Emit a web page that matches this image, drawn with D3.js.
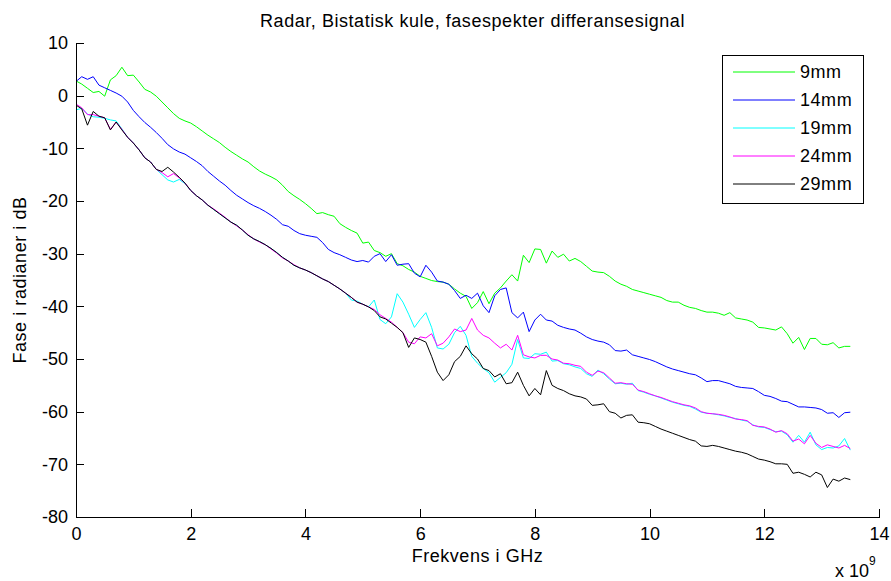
<!DOCTYPE html>
<html>
<head>
<meta charset="utf-8">
<script src="https://cdn.jsdelivr.net/npm/d3@7"></script>
<style>
  html, body { margin: 0; padding: 0; background: #fff; }
  svg { display: block; }
  text { font-family: "Liberation Sans", Arial, Helvetica, sans-serif; fill: #000; }
</style>
</head>
<body>
<svg id="chart" width="891" height="581"></svg>
<script>
// Frequency grid in GHz (plotted on an axis scaled by 1e9): 0.0 .. 13.5 in 0.1 steps
const freqStart = 0, freqStep = 0.1, freqCount = 136;
const freq = d3.range(freqCount).map(i => +(freqStart + i * freqStep).toFixed(1));

const seriesNames = ["9mm", "14mm", "19mm", "24mm", "29mm"];
const seriesColors = ["#00ff00", "#0000ff", "#00ffff", "#ff00ff", "#000000"];

const phase9 = [
  2.8, 2.2, 1.4, 0.6, 0.8, -0.1, 3.0, 3.8, 5.4, 3.8,
  3.9, 2.6, 1.2, 0.7, -0.1, -1.2, -2.3, -3.4, -4.3, -4.8,
  -5.2, -5.9, -6.7, -7.5, -8.2, -8.9, -9.8, -10.6, -11.3, -12.0,
  -12.6, -13.5, -14.3, -14.9, -15.4, -16.0, -17.0, -18.2, -19.0, -19.7,
  -20.5, -21.4, -22.4, -22.2, -22.6, -22.9, -24.3, -25.0, -25.6, -26.1,
  -28.0, -27.8, -29.4, -29.8, -30.5, -30.0, -31.9, -32.3, -33.0, -33.5,
  -34.3, -34.7, -35.1, -35.3, -35.4, -35.8, -36.7, -37.5, -38.1, -40.4,
  -39.3, -37.2, -39.5, -37.5, -36.5, -35.2, -34.0, -35.2, -30.3, -31.7,
  -29.1, -29.2, -31.8, -29.5, -30.7, -30.1, -31.4, -30.9, -31.5, -32.4,
  -33.3, -33.5, -33.6, -34.3, -35.2, -35.8, -36.2, -36.8, -37.1, -37.4,
  -37.7, -38.0, -38.3, -38.9, -39.2, -39.2, -39.8, -40.2, -40.4, -40.8,
  -41.1, -41.1, -41.3, -41.7, -41.2, -42.2, -42.4, -42.6, -43.0, -44.0,
  -44.1, -44.3, -44.5, -43.9, -45.2, -47.0, -45.9, -48.2, -46.1, -46.1,
  -47.2, -47.3, -46.9, -47.9, -47.6, -47.6
];

const phase14 = [
  2.7, 3.6, 3.1, 3.6, 2.0, 1.5, 1.0, 0.5, -0.1, -1.2,
  -2.8, -4.0, -5.1, -6.0, -7.0, -8.1, -9.3, -10.1, -10.7, -11.1,
  -11.8, -12.5, -13.3, -14.4, -15.3, -16.2, -17.0, -18.0, -18.9, -19.6,
  -20.3, -20.9, -21.4, -22.0, -22.7, -23.5, -24.5, -24.8, -25.6, -26.2,
  -26.5, -26.7, -26.9, -27.9, -29.2, -29.8, -30.2, -30.7, -31.2, -31.5,
  -31.3, -31.6, -30.5, -30.0, -31.5, -30.2, -32.2, -32.0, -31.9, -33.7,
  -34.4, -32.2, -33.5, -35.2, -35.4, -35.8, -37.0, -38.5, -37.9, -38.5,
  -37.5, -39.9, -41.2, -38.0, -36.8, -36.5, -41.2, -42.2, -41.1, -44.8,
  -42.6, -41.5, -42.6, -42.8, -43.6, -44.0, -44.3, -44.5, -45.1, -45.8,
  -46.3, -46.6, -46.8, -47.3, -48.4, -48.5, -48.3, -49.2, -49.5, -49.8,
  -50.1, -50.5, -51.0, -51.5, -51.9, -52.2, -52.5, -52.8, -53.0, -53.6,
  -54.3, -54.1, -54.1, -54.4, -54.7, -55.2, -55.4, -55.5, -55.6, -56.2,
  -56.9, -57.1, -57.5, -58.0, -58.1, -58.6, -59.1, -59.1, -59.2, -59.3,
  -59.6, -60.3, -60.2, -61.1, -60.2, -60.1
];

const phase19 = [
  -2.7, -2.4, -3.5, -4.0, -4.1, -4.3, -4.6, -4.8, -6.3, -7.9,
  -9.0, -10.3, -11.8, -12.6, -14.0, -15.0, -16.0, -16.4, -15.9, -16.7,
  -18.0, -19.0, -19.8, -20.8, -21.6, -22.4, -23.2, -24.0, -24.6, -25.5,
  -26.5, -27.2, -27.7, -28.3, -29.0, -29.8, -30.7, -31.4, -32.2, -32.7,
  -33.1, -33.6, -34.2, -34.8, -35.3, -36.0, -36.7, -37.5, -38.8, -39.0,
  -39.6, -40.1, -38.8, -42.5, -43.3, -42.0, -37.6, -39.2, -41.5, -44.0,
  -42.5, -41.2, -44.0, -47.9, -48.1, -47.2, -45.0, -43.8, -45.5, -49.5,
  -50.8, -51.8, -52.6, -54.4, -53.5, -52.6, -51.0, -46.3, -49.8, -49.9,
  -49.0, -49.1, -48.7, -50.4, -50.3, -50.9, -51.1, -51.5, -51.8, -52.8,
  -53.3, -52.1, -52.8, -53.8, -54.7, -54.6, -54.8, -54.6, -56.0, -56.3,
  -56.7, -57.0, -57.4, -57.8, -58.2, -58.5, -58.8, -59.0, -59.5, -60.1,
  -60.3, -60.4, -60.6, -60.8, -61.1, -61.3, -61.6, -61.8, -62.5, -62.9,
  -63.0, -63.4, -63.8, -63.7, -64.4, -65.8, -64.5, -65.8, -63.9, -66.3,
  -67.2, -66.8, -66.9, -66.5, -65.1, -67.3
];

const phase24 = [
  -1.6, -2.3, -3.6, -3.6, -3.9, -4.2, -6.4, -5.0, -6.4, -7.9,
  -9.0, -10.3, -11.8, -12.6, -14.0, -14.6, -15.4, -14.8, -15.6, -16.6,
  -18.0, -19.0, -19.8, -20.8, -21.5, -22.3, -23.1, -24.0, -24.7, -25.5,
  -26.4, -27.2, -27.8, -28.3, -29.1, -29.9, -30.8, -31.4, -32.1, -32.7,
  -33.1, -33.6, -34.2, -34.8, -35.3, -36.0, -36.7, -37.5, -38.3, -39.2,
  -39.6, -40.1, -40.6, -41.6, -42.3, -43.0, -44.0, -45.0, -46.8, -47.1,
  -45.8, -46.0, -45.2, -47.5, -47.0, -45.8, -44.3, -44.8, -44.5, -42.3,
  -44.5, -45.5, -46.0, -47.0, -47.9, -47.2, -48.3, -45.5, -49.2, -49.6,
  -49.8, -49.3, -49.3, -50.0, -50.2, -50.8, -50.9, -51.2, -51.4, -52.5,
  -53.1, -52.3, -52.6, -53.6, -54.6, -54.5, -54.7, -54.8, -55.9, -56.2,
  -56.6, -57.0, -57.3, -57.7, -58.1, -58.4, -58.7, -58.9, -59.3, -60.0,
  -60.3, -60.4, -60.5, -60.7, -61.0, -61.4, -61.5, -61.7, -62.6, -62.8,
  -62.9, -63.3, -63.9, -63.6, -64.2, -65.6, -65.2, -66.1, -64.5, -66.0,
  -66.8, -66.3, -66.6, -66.9, -66.4, -67.0
];

const phase29 = [
  -1.8, -2.5, -5.6, -3.0, -3.9, -4.2, -6.5, -5.0, -6.5, -7.9,
  -9.0, -10.3, -11.8, -12.6, -14.0, -14.4, -13.6, -14.5, -15.5, -16.6,
  -18.0, -19.0, -19.8, -20.8, -21.6, -22.4, -23.2, -24.0, -24.6, -25.5,
  -26.5, -27.2, -27.7, -28.3, -29.0, -29.8, -30.7, -31.4, -32.2, -32.7,
  -33.1, -33.6, -34.2, -34.8, -35.3, -36.0, -36.7, -37.5, -38.3, -39.2,
  -39.6, -40.1, -40.8, -42.0, -42.4, -43.2, -44.0, -45.0, -47.8, -46.0,
  -46.3, -46.8, -49.5, -52.5, -54.1, -53.0, -50.5, -49.5, -47.5, -49.0,
  -50.0, -51.8, -52.2, -53.4, -52.8, -54.7, -54.5, -52.5, -55.0, -57.0,
  -55.6, -56.8, -52.2, -55.0, -55.6, -56.0, -56.6, -57.0, -57.2, -57.6,
  -58.8, -58.7, -58.5, -60.0, -60.3, -61.2, -60.7, -60.6, -62.0, -62.1,
  -62.3, -62.8, -63.3, -63.7, -64.1, -64.5, -64.9, -65.3, -65.6, -66.5,
  -66.6, -66.4, -66.6, -66.9, -67.2, -67.5, -67.7, -68.0, -68.5, -69.0,
  -69.2, -69.5, -69.9, -69.9, -70.0, -71.7, -71.5, -71.9, -72.4, -71.5,
  -72.0, -74.4, -72.8, -73.2, -72.6, -72.9
];

const seriesValues = [phase9, phase14, phase19, phase24, phase29];

const xTicks = [0, 2, 4, 6, 8, 10, 12, 14];
const yTicks = [-80, -70, -60, -50, -40, -30, -20, -10, 0, 10];

const titleText = "Radar, Bistatisk kule, fasespekter differansesignal";
const xLabelText = "Frekvens i GHz";
const yLabelText = "Fase i radianer i dB";

// ---- layout ----
const svg = d3.select("#chart");
const plotLeft = 76, plotRight = 879, plotTop = 43, plotBottom = 517;
const fontSize = 18;
const letterGap = 0.55;

const x = d3.scaleLinear().domain([0, 14]).range([plotLeft, plotRight]);
const y = d3.scaleLinear().domain([-80, 10]).range([plotBottom, plotTop]);

// plain ASCII hyphen for negative tick labels
const tickFmt = d => String(d);

// data lines (drawn first so the legend sits on top)
const line = d3.line()
  .x((d, i) => x(freq[i]))
  .y(d => y(d));

const linesG = svg.append("g").attr("class", "lines");
seriesValues.forEach((vals, k) => {
  linesG.append("path")
    .datum(vals)
    .attr("d", line)
    .attr("fill", "none")
    .attr("stroke", seriesColors[k])
    .attr("stroke-width", 1)
    .attr("stroke-linejoin", "round");
});

// axes with inward ticks
const xAxis = d3.axisBottom(x).tickValues(xTicks).tickFormat(tickFmt)
  .tickSizeInner(-8).tickSizeOuter(0).tickPadding(10);
const yAxis = d3.axisLeft(y).tickValues(yTicks).tickFormat(tickFmt)
  .tickSizeInner(-8).tickSizeOuter(0).tickPadding(8);

const gx = svg.append("g").attr("transform", `translate(0,${plotBottom})`).call(xAxis);
const gy = svg.append("g").attr("transform", `translate(${plotLeft},0)`).call(yAxis);

[gx, gy].forEach(g => {
  g.selectAll("path.domain").attr("stroke", "#000").attr("stroke-width", 1).attr("shape-rendering", "crispEdges");
  g.selectAll(".tick line").attr("stroke", "#000").attr("stroke-width", 1).attr("shape-rendering", "crispEdges");
  g.selectAll(".tick text")
    .attr("font-family", '"Liberation Sans", Arial, sans-serif')
    .attr("font-size", fontSize)
    .attr("fill", "#000");
});

// title and axis labels
svg.append("text")
  .attr("x", (plotLeft + plotRight) / 2 - 5).attr("y", 27)
  .attr("text-anchor", "middle").attr("font-size", fontSize)
  .attr("letter-spacing", letterGap)
  .text(titleText);

svg.append("text")
  .attr("x", (plotLeft + plotRight) / 2).attr("y", 562)
  .attr("text-anchor", "middle").attr("font-size", fontSize)
  .attr("letter-spacing", letterGap)
  .text(xLabelText);

svg.append("text")
  .attr("transform", `translate(26,${(plotTop + plotBottom) / 2}) rotate(-90)`)
  .attr("text-anchor", "middle").attr("font-size", fontSize)
  .attr("letter-spacing", letterGap)
  .text(yLabelText);

// axis exponent "x 10^9"
const expo = svg.append("text")
  .attr("x", 835).attr("y", 577).attr("font-size", fontSize);
expo.append("tspan").text("x 10");
expo.append("tspan").attr("font-size", 12).attr("dy", -12).text("9");

// legend
const legX = 722, legY = 55, legW = 141, legH = 148, rowH = 28;
const leg = svg.append("g").attr("class", "legend");
leg.append("rect")
  .attr("x", legX + 0.5).attr("y", legY + 0.5)
  .attr("width", legW).attr("height", legH)
  .attr("fill", "#fff").attr("stroke", "#000").attr("stroke-width", 1);

seriesNames.forEach((name, k) => {
  const ry = legY + 17 + k * rowH;
  leg.append("line")
    .attr("x1", legX + 11).attr("x2", legX + 73)
    .attr("y1", ry).attr("y2", ry)
    .attr("stroke", seriesColors[k]).attr("stroke-width", 1);
  leg.append("text")
    .attr("x", legX + 78).attr("y", ry)
    .attr("dy", "0.35em").attr("font-size", fontSize)
    .attr("letter-spacing", letterGap)
    .text(name);
});
</script>
</body>
</html>
